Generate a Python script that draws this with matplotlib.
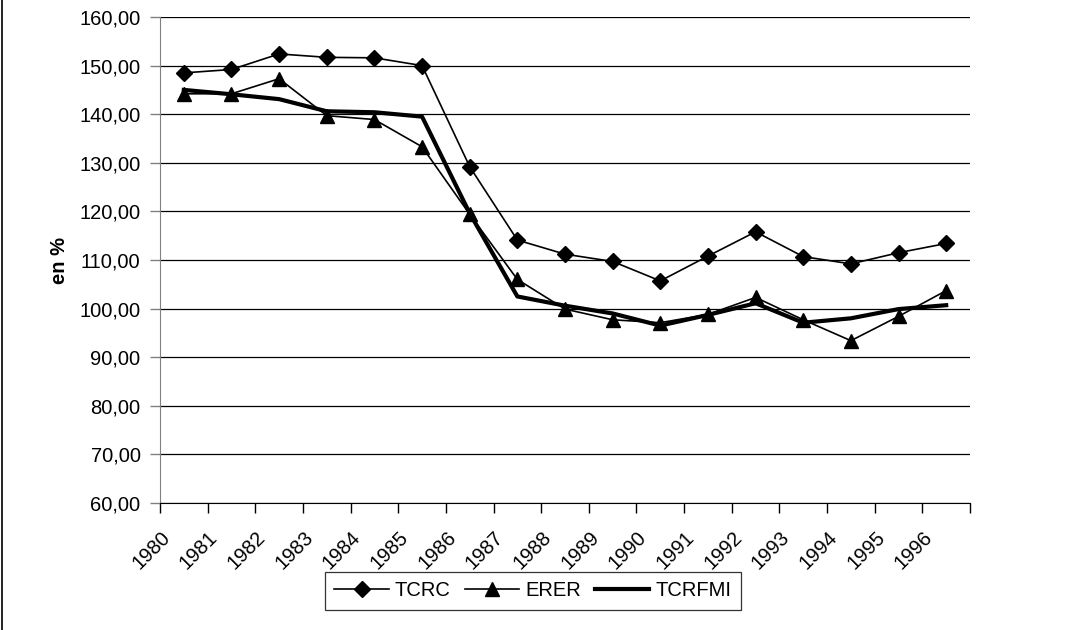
import matplotlib
matplotlib.use('Agg')
import matplotlib.pyplot as plt
import matplotlib.transforms as mtransforms
from matplotlib.lines import Line2D
from matplotlib.ticker import FixedLocator, FuncFormatter
import numpy as np

plt.rcParams['font.family'] = ['Liberation Sans', 'DejaVu Sans']

# Donnees
annees = [str(a) for a in range(1980, 1997)]
tcrc = [148.5, 149.2, 152.4, 151.7, 151.6, 150.0, 129.2, 114.1, 111.2, 109.7,
        105.7, 110.8, 115.8, 110.7, 109.2, 111.5, 113.4]
erer = [144.2, 144.2, 147.3, 139.7, 138.9, 133.3, 119.4, 106.0, 99.9, 97.7,
        97.1, 98.8, 102.3, 97.7, 93.4, 98.4, 103.7]
tcrfmi = [145.0, 144.1, 143.1, 140.6, 140.4, 139.5, 119.6, 102.5, 100.6, 99.0,
          96.5, 98.7, 101.1, 97.1, 98.0, 99.9, 100.7]

fs = 14.5
fig = plt.figure(figsize=(10.91, 6.30), dpi=100)
ax = fig.add_axes([160 / 1091, 1 - 503 / 630, 810 / 1091, 486 / 630])

x = np.arange(len(annees)) + 0.5
ax.plot(x, tcrc, color='black', lw=1.2, marker='D', ms=8.5, label='TCRC', zorder=3)
ax.plot(x, erer, color='black', lw=1.2, marker='^', ms=10, label='ERER', zorder=3)
ax.plot(x, tcrfmi, color='black', lw=3.0, label='TCRFMI', zorder=4)

ax.set_xlim(0, len(annees))
ax.set_ylim(60, 160)
ax.set_yticks(np.arange(60, 161, 10))
ax.yaxis.set_major_formatter(FuncFormatter(lambda v, p: f'{v:.2f}'.replace('.', ',')))
ax.grid(axis='y', color='black', lw=0.9)
ax.set_axisbelow(True)

# ticks aux limites des categories, etiquettes au centre
ax.xaxis.set_major_locator(FixedLocator(np.arange(0, len(annees) + 1)))
ax.xaxis.set_minor_locator(FixedLocator(x))
ax.set_xticklabels([])
ax.set_xticklabels(annees, minor=True, rotation=45, ha='right', fontsize=fs)
ax.tick_params(axis='x', which='major', length=7, width=1, color='black', direction='out')
ax.tick_params(axis='x', which='minor', length=0, pad=18)
ax.tick_params(axis='y', length=7, width=1, color='#808080', labelsize=fs, pad=7)
decal = mtransforms.ScaledTranslation(-10 / 100, 0, fig.dpi_scale_trans)
for lab in ax.xaxis.get_minorticklabels():
    lab.set_transform(lab.get_transform() + decal)

for s in ['top', 'right']:
    ax.spines[s].set_visible(False)
ax.spines['left'].set_color('#808080')
ax.spines['bottom'].set_color('black')

ax.set_ylabel('en %', fontsize=fs, fontweight='bold')
ax.yaxis.set_label_coords(-0.112, 0.5)

leg = ax.legend(loc='center', bbox_to_anchor=(533 / 1091, 1 - 591 / 630),
                bbox_transform=fig.transFigure, ncol=3, fontsize=fs, frameon=True,
                fancybox=False, edgecolor='black', handlelength=2.7,
                columnspacing=0.7, handletextpad=0.3, borderpad=0.45)
leg.get_frame().set_linewidth(0.9)

# bordure gauche de la zone de graphique
fig.add_artist(Line2D([2 / 1091, 2 / 1091], [0, 1], transform=fig.transFigure,
                      color='black', lw=1.2))

fig.savefig('out.png', dpi=100)
